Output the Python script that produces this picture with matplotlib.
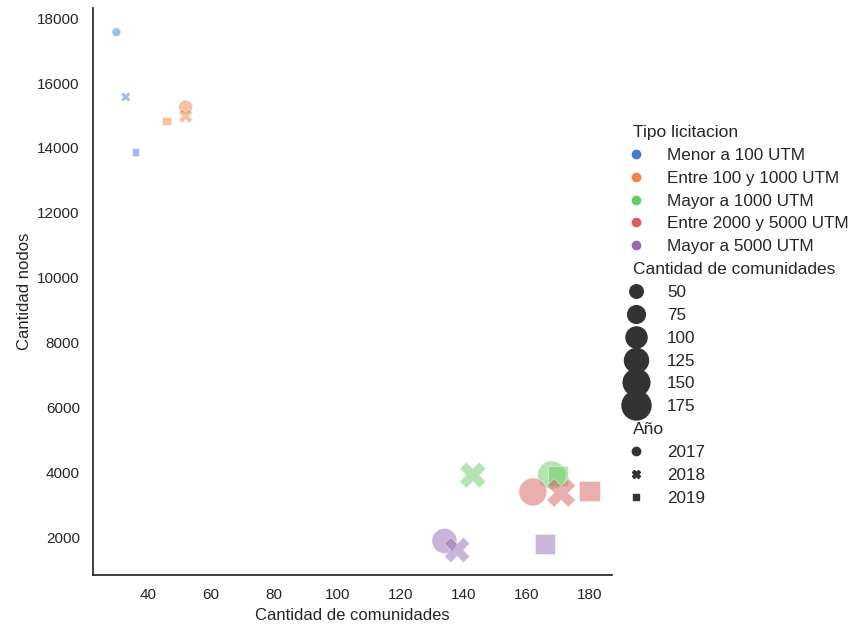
import numpy as np
import pandas as pd
import seaborn as sns
import matplotlib.pyplot as plt
from matplotlib.lines import Line2D
from seaborn.utils import adjust_legend_subtitles

sns.set_theme(context="notebook", style="white", palette="muted")
plt.rcParams['font.family'] = ['Liberation Sans', 'DejaVu Sans']

tipos = ["Menor a 100 UTM", "Entre 100 y 1000 UTM", "Mayor a 1000 UTM",
         "Entre 2000 y 5000 UTM", "Mayor a 5000 UTM"]
anios = [2017, 2018, 2019]

# comunidades / nodos por tipo, en orden 2017, 2018, 2019
comunidades = {
    "Menor a 100 UTM": [30, 33, 36],
    "Entre 100 y 1000 UTM": [52, 52, 46],
    "Mayor a 1000 UTM": [168, 143, 170],
    "Entre 2000 y 5000 UTM": [162, 171, 180],
    "Mayor a 5000 UTM": [134, 138, 166],
}
nodos = {
    "Menor a 100 UTM": [17570, 15570, 13870],
    "Entre 100 y 1000 UTM": [15260, 14980, 14830],
    "Mayor a 1000 UTM": [3910, 3910, 3880],
    "Entre 2000 y 5000 UTM": [3390, 3360, 3420],
    "Mayor a 5000 UTM": [1880, 1600, 1790],
}

rows = []
for t in tipos:
    for a, c, n in zip(anios, comunidades[t], nodos[t]):
        rows.append({"Tipo licitacion": t, "Año": a,
                     "Cantidad de comunidades": c, "Cantidad nodos": n})
df = pd.DataFrame(rows)

marcadores = ["o", "X", (4, 0, 45)]
tamanos = (40, 450)
fig = plt.figure(figsize=(8.56, 6.27), dpi=100)
ax = fig.add_axes([0.1086, 0.083, 0.606, 0.904])
sns.scatterplot(data=df, x="Cantidad de comunidades", y="Cantidad nodos",
                hue="Tipo licitacion", hue_order=tipos,
                size="Cantidad de comunidades", sizes=tamanos,
                style="Año", markers=marcadores,
                alpha=0.5, legend=False, ax=ax)
sns.despine(ax=ax)
ax.set_xlim(22.6, 187)
ax.set_ylim(830, 18310)
ax.set_xticks(np.arange(40, 181, 20))

# leyenda con subtitulos (tipo, tamaño, año)
colores = sns.color_palette("muted", len(tipos))
cmin, cmax = df["Cantidad de comunidades"].min(), df["Cantidad de comunidades"].max()
handles, labels = [], []
handles.append(Line2D([], [], visible=False)); labels.append("Tipo licitacion")
for t, col in zip(tipos, colores):
    handles.append(Line2D([], [], marker="o", linestyle="", color=col, markersize=6))
    labels.append(t)
handles.append(Line2D([], [], visible=False)); labels.append("Cantidad de comunidades")
for v in [50, 75, 100, 125, 150, 175]:
    s = tamanos[0] + (v - cmin) / (cmax - cmin) * (tamanos[1] - tamanos[0])
    handles.append(Line2D([], [], marker="o", linestyle="", color=".2", markersize=np.sqrt(s)))
    labels.append(str(v))
handles.append(Line2D([], [], visible=False)); labels.append("Año")
for a, m in zip(anios, marcadores):
    handles.append(Line2D([], [], marker=m, linestyle="", color=".2", markersize=6))
    labels.append(str(a))

plt.rcParams["legend.title_fontsize"] = 12.5
leg = fig.legend(handles, labels, loc="center left", bbox_to_anchor=(0.7056, 0.497),
                 frameon=False, fontsize=12.3, labelspacing=0.46)
adjust_legend_subtitles(leg)

fig.savefig("out.png", dpi=100)
